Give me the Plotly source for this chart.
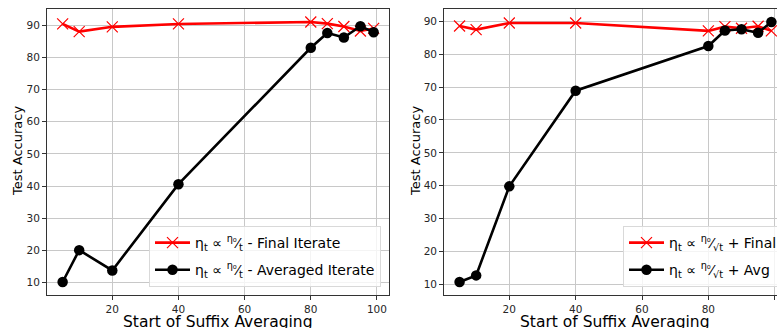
import plotly.graph_objects as go

# ---- data ----
x_left = [5, 10, 20, 40, 80, 85, 90, 95, 99]
final_left = [90.4, 88.0, 89.5, 90.4, 91.0, 90.5, 89.6, 88.2, 89.0]
avg_left = [10.2, 20.1, 13.8, 40.6, 83.0, 87.6, 86.2, 89.7, 87.8]

x_right = [5, 10, 20, 40, 80, 85, 90, 95, 99]
final_right = [88.6, 87.5, 89.5, 89.5, 87.1, 88.4, 87.9, 88.5, 87.1]
avg_right = [10.7, 12.7, 39.8, 68.9, 82.5, 87.2, 87.6, 86.5, 89.8]

x_ticks = [20, 40, 60, 80, 100]
y_ticks = [10, 20, 30, 40, 50, 60, 70, 80, 90]

labels_left = ["η<sub>t</sub> ∝ <sup>η₀</sup>⁄<sub>t</sub> - Final Iterate",
               "η<sub>t</sub> ∝ <sup>η₀</sup>⁄<sub>t</sub> - Averaged Iterate"]
labels_right = ["η<sub>t</sub> ∝ <sup>η₀</sup>⁄<sub>√t</sub> + Final",
                "η<sub>t</sub> ∝ <sup>η₀</sup>⁄<sub>√t</sub> + Avg"]

W, H = 777, 328
FONT = "DejaVu Sans"


def px(sx):
    return sx / W


def py(sy):
    return 1 - sy / H


fig = go.Figure()


def add_pair(xs, fin, avg, labels, xa, ya, legend, grp):
    fig.add_trace(go.Scatter(
        x=xs, y=fin, mode="lines+markers", name=labels[0],
        line=dict(color="#ff0000", width=2.6),
        marker=dict(symbol="x-thin", size=11, color="#ff0000",
                    line=dict(color="#ff0000", width=1.2)),
        xaxis=xa, yaxis=ya, legend=legend, legendgroup=grp + "a"))
    fig.add_trace(go.Scatter(
        x=xs, y=avg, mode="lines+markers", name=labels[1],
        line=dict(color="#000000", width=2.6),
        marker=dict(symbol="circle", size=10.5, color="#000000"),
        xaxis=xa, yaxis=ya, legend=legend, legendgroup=grp + "b"))


add_pair(x_left, final_left, avg_left, labels_left, "x", "y", "legend", "L")
add_pair(x_right, final_right, avg_right, labels_right, "x2", "y2", "legend2", "R")

axis_common = dict(
    showgrid=True, gridcolor="#c8c8c8", gridwidth=1,
    showline=True, linecolor="#333333", linewidth=1.3, mirror=True,
    ticks="outside", ticklen=4, tickwidth=1, tickcolor="#333333",
    tickfont=dict(family=FONT, size=10.5, color="#262626"),
    zeroline=False,
)

legend_common = dict(
    bgcolor="rgba(255,255,255,0.8)", bordercolor="#d9d9d9", borderwidth=1,
    font=dict(family=FONT, size=14, color="#000"),
    itemwidth=35, tracegroupgap=6,
)

fig.update_layout(
    width=W, height=H,
    margin=dict(l=0, r=0, t=0, b=0, autoexpand=False),
    paper_bgcolor="white", plot_bgcolor="white",
    font=dict(family=FONT),
    xaxis=dict(domain=[px(47.1), px(389.2)], range=[0.3, 103.7],
               tickvals=x_ticks, anchor="y", **axis_common),
    yaxis=dict(domain=[py(295), py(9)], range=[6.16, 95.04],
               tickvals=y_ticks, anchor="x", **axis_common),
    xaxis2=dict(domain=[px(444.3), 1.0], range=[0.4, 100.7],
                tickvals=x_ticks, anchor="y2", **axis_common),
    yaxis2=dict(domain=[py(295), py(9)], range=[6.74, 93.76],
                tickvals=y_ticks, anchor="x2", **axis_common),
    legend=dict(x=px(381), y=py(287), xanchor="right", yanchor="bottom",
                **legend_common),
    legend2=dict(x=px(623), y=py(287), xanchor="left", yanchor="bottom",
                 **legend_common),
    showlegend=True,
)

title_font = dict(family=FONT, size=15.5, color="#000")
for cx in (218, 615):
    fig.add_annotation(text="Start of Suffix Averaging", xref="paper", yref="paper",
                       x=px(cx), y=py(322), xanchor="center", yanchor="middle",
                       showarrow=False, font=title_font)
for cx in (17, 415):
    fig.add_annotation(text="Test Accuracy", xref="paper", yref="paper",
                       x=px(cx), y=py(151), xanchor="center", yanchor="middle",
                       textangle=-90, showarrow=False,
                       font=dict(family=FONT, size=13, color="#000"))

# remove the default page margin so the figure fills the window exactly
fig.write_html("out.html",
               config={"displayModeBar": False},
               post_script="document.body.style.margin='0';"
                           "document.body.style.overflow='hidden';")
